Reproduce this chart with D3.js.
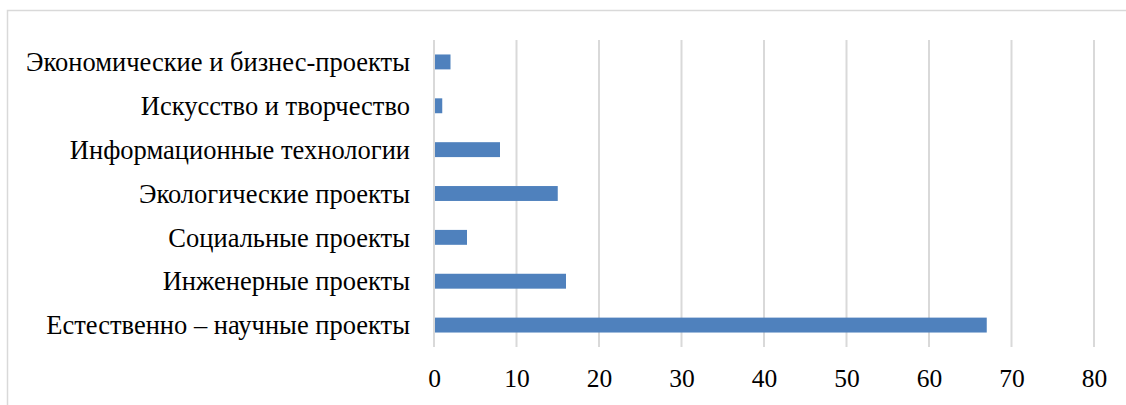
<!DOCTYPE html>
<html lang="ru">
<head>
<meta charset="UTF-8">
<title>Проекты</title>
<script src="https://cdn.jsdelivr.net/npm/d3@7"></script>
<style>
  body { margin: 0; background: #fff; }
</style>
</head>
<body>
<div id="chart"></div>
<script>
var categories = [
  'Экономические и бизнес-проекты',
  'Искусство и творчество',
  'Информационные технологии',
  'Экологические проекты',
  'Социальные проекты',
  'Инженерные проекты',
  'Естественно – научные проекты'
];
var values = [2, 1, 8, 15, 4, 16, 67];
var xTicks = [0, 10, 20, 30, 40, 50, 60, 70, 80];

var W = 1126, H = 405;
var plotLeft = 434, plotRight = 1094, plotTop = 40, plotBottom = 347;
var serif = '"Liberation Serif", "Times New Roman", serif';

var svg = d3.select('#chart').append('svg').attr('width', W).attr('height', H);

// chart area frame (only top and left edges visible)
svg.append('path')
  .attr('d', 'M7.5,' + H + 'V10.5H' + W)
  .attr('fill', 'none').attr('stroke', '#d9d9d9').attr('stroke-width', 1.5);

var x = d3.scaleLinear().domain([0, 80]).range([plotLeft, plotRight]);
var y = d3.scaleBand().domain(categories).range([plotTop, plotBottom]).paddingInner(0.66).paddingOuter(0.33);

// vertical gridlines
svg.append('g').selectAll('line').data(xTicks).join('line')
  .attr('x1', d => x(d)).attr('x2', d => x(d))
  .attr('y1', plotTop).attr('y2', plotBottom)
  .attr('stroke', '#d9d9d9').attr('stroke-width', 2);

// bars
svg.append('g').selectAll('rect').data(values).join('rect')
  .attr('x', x(0) + 1)
  .attr('y', (d, i) => y(categories[i]))
  .attr('width', d => x(d) - x(0) - 1)
  .attr('height', y.bandwidth())
  .attr('fill', '#4f81bd');

// category labels
svg.append('g').selectAll('text').data(categories).join('text')
  .attr('x', plotLeft - 24)
  .attr('y', d => y(d) + y.bandwidth() / 2)
  .attr('dy', '0.35em')
  .attr('text-anchor', 'end')
  .attr('font-family', serif)
  .attr('font-size', 26.5)
  .attr('fill', '#000')
  .text(d => d);

// x axis tick labels
var xAxis = d3.axisBottom(x).tickValues(xTicks).tickSize(0).tickPadding(0);
var ax = svg.append('g').attr('transform', 'translate(0,' + 387 + ')').call(xAxis)
  .attr('font-family', serif);
ax.select('.domain').remove();
ax.selectAll('text')
  .attr('y', 0).attr('dy', 0)
  .attr('font-size', 25.5)
  .attr('fill', '#000');
</script>
</body>
</html>
